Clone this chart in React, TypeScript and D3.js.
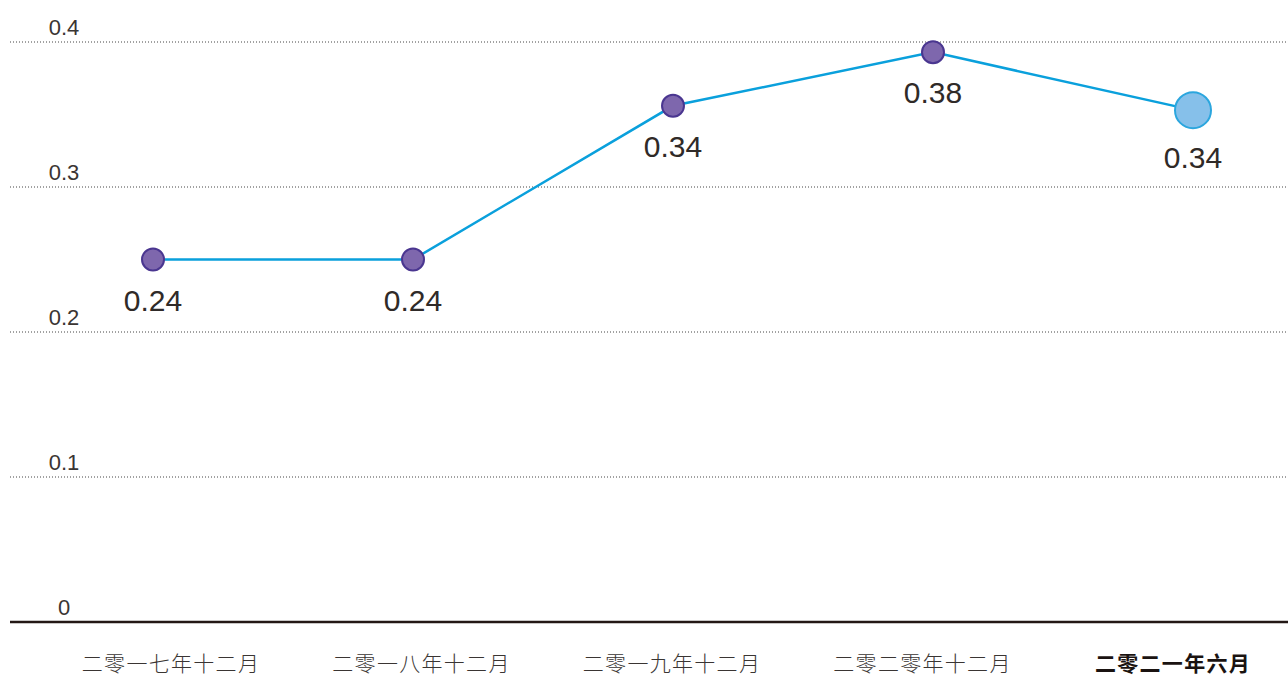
import { useEffect, useRef } from 'react'
import * as d3 from 'd3'

const periods = ['二零一七年十二月', '二零一八年十二月', '二零一九年十二月', '二零二零年十二月', '二零二一年六月']
const values = [0.25, 0.25, 0.356, 0.393, 0.353]
const valueLabels = ['0.24', '0.24', '0.34', '0.38', '0.34']
const yTicks = [0, 0.1, 0.2, 0.3, 0.4]

export default function App() {
  const chartRef = useRef<SVGSVGElement | null>(null)

  useEffect(() => {
    if (!chartRef.current) return
    const svg = d3.select(chartRef.current)
    svg.selectAll('*').remove()

    const width = 1288
    const height = 678
    const numFont = '"Liberation Sans", Arial, sans-serif'
    const cjkFont = '"Noto Sans CJK SC", sans-serif'

    const y = d3.scaleLinear().domain([0, 0.4]).range([622, 42])
    // point positions and category label positions
    const x = d3.scalePoint<string>().domain(periods).range([153, 1193])
    const xLabel = d3.scalePoint<string>().domain(periods).range([171, 1173])

    // dotted grid lines
    svg
      .selectAll('.grid')
      .data(yTicks.filter(t => t > 0))
      .enter()
      .append('line')
      .attr('class', 'grid')
      .attr('x1', 10)
      .attr('x2', width)
      .attr('y1', d => y(d))
      .attr('y2', d => y(d))
      .attr('stroke', '#444')
      .attr('stroke-width', 1)
      .attr('stroke-dasharray', '1,2')

    // baseline
    svg
      .append('line')
      .attr('x1', 10)
      .attr('x2', width)
      .attr('y1', y(0))
      .attr('y2', y(0))
      .attr('stroke', '#231815')
      .attr('stroke-width', 2.5)

    // y tick labels
    svg
      .selectAll('.ytick')
      .data(yTicks)
      .enter()
      .append('text')
      .attr('class', 'ytick')
      .attr('x', 64)
      .attr('y', d => y(d) - 7)
      .attr('text-anchor', 'middle')
      .attr('fill', '#3a3533')
      .style('font-family', numFont)
      .style('font-size', '22px')
      .text(d => (d === 0 ? '0' : d3.format('.1f')(d)))

    // line
    const line = d3.line<number>()
      .x((d, i) => x(periods[i])!)
      .y(d => y(d))

    svg
      .append('path')
      .datum(values)
      .attr('fill', 'none')
      .attr('stroke', '#0aa0dc')
      .attr('stroke-width', 2.5)
      .attr('d', line)

    // dots
    svg
      .selectAll('.dot')
      .data(values)
      .enter()
      .append('circle')
      .attr('class', 'dot')
      .attr('cx', (d, i) => x(periods[i])!)
      .attr('cy', d => y(d))
      .attr('r', (d, i) => (i === values.length - 1 ? 18 : 11))
      .attr('fill', (d, i) => (i === values.length - 1 ? '#86c0ea' : '#7e67ad'))
      .attr('stroke', (d, i) => (i === values.length - 1 ? '#2ba6de' : '#4a3690'))
      .attr('stroke-width', 2)

    // value labels
    svg
      .selectAll('.vlabel')
      .data(values)
      .enter()
      .append('text')
      .attr('class', 'vlabel')
      .attr('x', (d, i) => x(periods[i])!)
      .attr('y', (d, i) => y(d) + (i === values.length - 1 ? 58 : 51))
      .attr('text-anchor', 'middle')
      .attr('fill', '#2f2a28')
      .style('font-family', numFont)
      .style('font-size', '30px')
      .text((d, i) => valueLabels[i])

    // category labels
    svg
      .selectAll('.xlabel')
      .data(periods)
      .enter()
      .append('text')
      .attr('class', 'xlabel')
      .attr('x', d => xLabel(d)!)
      .attr('y', 671)
      .attr('text-anchor', 'middle')
      .attr('fill', (d, i) => (i === periods.length - 1 ? '#1a1311' : '#3a3533'))
      .style('font-family', cjkFont)
      .style('font-size', '21px')
      .style('font-weight', (d, i) => (i === periods.length - 1 ? 700 : 300))
      .style('letter-spacing', '1.3px')
      .text(d => d)

    svg.attr('width', width).attr('height', height).attr('viewBox', `0 0 ${width} ${height}`)
  }, [])

  return (
    <div style={{ position: 'absolute', left: 0, top: 0 }}>
      <svg ref={chartRef} style={{ display: 'block' }}></svg>
    </div>
  )
}
